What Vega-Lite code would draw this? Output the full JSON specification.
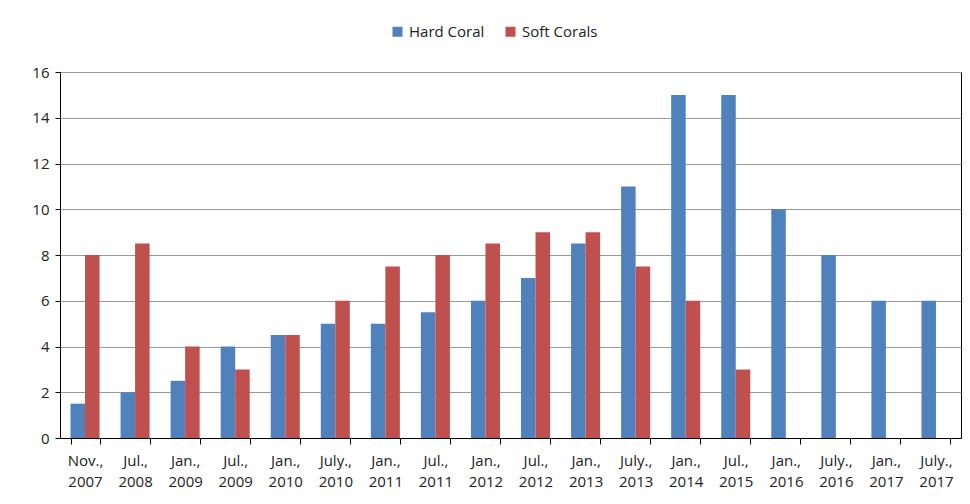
{
  "$schema": "https://vega.github.io/schema/vega-lite/v6.json",
  "autosize": {"type": "none"},
  "width": 901,
  "height": 366,
  "padding": {"left": 60, "top": 72, "right": 9, "bottom": 66},
  "background": "white",
  "config": {
    "font": "Open Sans",
    "view": {"stroke": "#000", "strokeWidth": 1}
  },
  "data": {
    "values": [
      {"date": "Nov., 2007", "series": "Hard Coral", "value": 1.5},
      {"date": "Nov., 2007", "series": "Soft Corals", "value": 8},
      {"date": "Jul., 2008", "series": "Hard Coral", "value": 2},
      {"date": "Jul., 2008", "series": "Soft Corals", "value": 8.5},
      {"date": "Jan., 2009", "series": "Hard Coral", "value": 2.5},
      {"date": "Jan., 2009", "series": "Soft Corals", "value": 4},
      {"date": "Jul., 2009", "series": "Hard Coral", "value": 4},
      {"date": "Jul., 2009", "series": "Soft Corals", "value": 3},
      {"date": "Jan., 2010", "series": "Hard Coral", "value": 4.5},
      {"date": "Jan., 2010", "series": "Soft Corals", "value": 4.5},
      {"date": "July., 2010", "series": "Hard Coral", "value": 5},
      {"date": "July., 2010", "series": "Soft Corals", "value": 6},
      {"date": "Jan., 2011", "series": "Hard Coral", "value": 5},
      {"date": "Jan., 2011", "series": "Soft Corals", "value": 7.5},
      {"date": "Jul., 2011", "series": "Hard Coral", "value": 5.5},
      {"date": "Jul., 2011", "series": "Soft Corals", "value": 8},
      {"date": "Jan., 2012", "series": "Hard Coral", "value": 6},
      {"date": "Jan., 2012", "series": "Soft Corals", "value": 8.5},
      {"date": "Jul., 2012", "series": "Hard Coral", "value": 7},
      {"date": "Jul., 2012", "series": "Soft Corals", "value": 9},
      {"date": "Jan., 2013", "series": "Hard Coral", "value": 8.5},
      {"date": "Jan., 2013", "series": "Soft Corals", "value": 9},
      {"date": "July., 2013", "series": "Hard Coral", "value": 11},
      {"date": "July., 2013", "series": "Soft Corals", "value": 7.5},
      {"date": "Jan., 2014", "series": "Hard Coral", "value": 15},
      {"date": "Jan., 2014", "series": "Soft Corals", "value": 6},
      {"date": "Jul., 2015", "series": "Hard Coral", "value": 15},
      {"date": "Jul., 2015", "series": "Soft Corals", "value": 3},
      {"date": "Jan., 2016", "series": "Hard Coral", "value": 10},
      {"date": "July., 2016", "series": "Hard Coral", "value": 8},
      {"date": "Jan., 2017", "series": "Hard Coral", "value": 6},
      {"date": "July., 2017", "series": "Hard Coral", "value": 6}
    ]
  },
  "mark": {"type": "bar"},
  "encoding": {
    "x": {
      "field": "date",
      "type": "nominal",
      "sort": null,
      "scale": {"paddingInner": 0.42, "paddingOuter": 0.21},
      "axis": {
        "title": null,
        "labelAngle": 0,
        "labelExpr": "isString(datum.value) ? split(datum.value, ' ') : ''",
        "labelFontSize": 15,
        "labelColor": "#222",
        "labelLineHeight": 21,
        "labelPadding": 9,
        "tickBand": "extent",
        "tickSize": 6,
        "tickColor": "#000",
        "domainColor": "#000",
        "labelBaseline": "top"
      }
    },
    "xOffset": {"field": "series", "type": "nominal", "scale": {"paddingInner": 0}},
    "y": {
      "field": "value",
      "type": "quantitative",
      "scale": {"domain": [0, 16]},
      "axis": {
        "title": null,
        "values": [0, 2, 4, 6, 8, 10, 12, 14, 16],
        "labelFontSize": 15,
        "labelColor": "#222",
        "labelPadding": 6,
        "tickSize": 5,
        "tickColor": "#000",
        "domainColor": "#000",
        "gridColor": "#999",
        "gridWidth": 1
      }
    },
    "color": {
      "field": "series",
      "type": "nominal",
      "scale": {"domain": ["Hard Coral", "Soft Corals"], "range": ["#4F81BD", "#C0504D"]},
      "legend": {
        "title": null,
        "orient": "none",
        "direction": "horizontal",
        "legendX": 330,
        "legendY": -48,
        "symbolType": "square",
        "symbolSize": 100,
        "symbolStrokeWidth": 0,
        "labelFontSize": 15,
        "labelColor": "#222",
        "columnPadding": 18,
        "labelOffset": 4
      }
    }
  }
}
